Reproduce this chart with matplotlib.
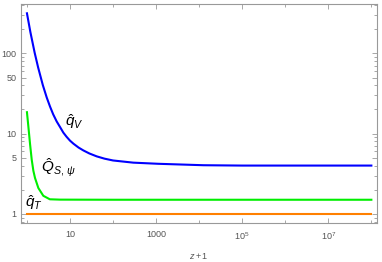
import numpy as np
import matplotlib
matplotlib.use('Agg')
import matplotlib.pyplot as plt
from matplotlib.ticker import FixedLocator, NullFormatter

plt.rcParams['font.family'] = ['Liberation Sans', 'DejaVu Sans']
plt.rcParams['mathtext.fontset'] = 'custom'
plt.rcParams['mathtext.rm'] = 'Liberation Sans'
plt.rcParams['mathtext.it'] = 'Liberation Sans:italic'

# curves (z+1, value)
zV = [1.0, 1.2, 1.51, 1.82, 2.34, 2.88, 3.43, 4.07, 4.9, 5.89, 7.0, 8.32, 10, 12, 15.8, 20.4,
      28.2, 41.7, 63.1, 100, 295, 1120, 1.26e4, 1e5, 1e6, 1e7, 1e8]
qV = [316, 185, 102, 66.7, 40.2, 28.2, 21.8, 17.4, 14.2, 12.05, 10.3, 9.14, 8.18, 7.5, 6.71, 6.18,
      5.66, 5.21, 4.88, 4.63, 4.35, 4.21, 4.04, 4.0, 4.0, 4.0, 4.0]

zS = [1.0, 1.075, 1.18, 1.29, 1.41, 1.54, 1.84, 2.4, 3.4, 5.9, 100, 1e4, 1e6, 1e8]
QS = [18.5, 12.5, 7.43, 4.74, 3.44, 2.80, 2.10, 1.68, 1.52, 1.505, 1.5, 1.5, 1.5, 1.5]

zT = [1.0, 1e8]
qT = [1.0, 1.0]

xmajor = [10, 1000, 1e5, 1e7]
xmajor_lab = ['10', '1000', '$10^5$', '$10^7$']
xminor = [1, 100, 1e4, 1e6, 1e8]
ymajor = [1, 5, 10, 50, 100]
ymajor_lab = ['1', '5', '10', '50', '100']
yminor = [0.8, 0.9, 2, 3, 4, 6, 7, 8, 9, 20, 30, 40, 60, 70, 80, 90, 200, 300, 400]

fig = plt.figure(figsize=(3.82, 2.62), dpi=100)
ax = fig.add_axes([0.0542, 0.1489, 0.9335, 0.8359])

ax.plot(zV, qV, color='#0000ff', lw=1.5)
ax.plot(zS, QS, color='#00ee00', lw=1.5)
ax.plot(zT, qT, color='#ff8000', lw=1.5)

ax.set_xscale('log')
ax.set_yscale('log')
ax.set_xlim(0.716, 1.374e8)
ax.set_ylim(0.77, 413)

gray = '#999999'
for s in ax.spines.values():
    s.set_color(gray)
    s.set_linewidth(0.8)

ax.xaxis.set_major_locator(FixedLocator(xmajor))
ax.set_xticklabels(xmajor_lab)
ax.xaxis.set_minor_locator(FixedLocator(xminor))
ax.xaxis.set_minor_formatter(NullFormatter())
ax.yaxis.set_major_locator(FixedLocator(ymajor))
ax.set_yticklabels(ymajor_lab)
ax.yaxis.set_minor_locator(FixedLocator(yminor))
ax.yaxis.set_minor_formatter(NullFormatter())

ax.tick_params(which='both', direction='in', top=True, right=True, color=gray,
               labelcolor='#555555', labelsize=6.5, width=0.6)
ax.tick_params(which='major', length=3.5, pad=3)
ax.tick_params(which='minor', length=2)
ax.tick_params(axis='x', which='major', pad=5)

ax.set_xlabel('$z+1$', fontsize=6.5, color='#555555', labelpad=7)

ax.text(7.65, 14.1, r'$\hat{q}_V$', fontsize=11, va='center', ha='left')
ax.text(2.12, 3.79, r'$\hat{Q}_{S,\,\psi}$', fontsize=11, va='center', ha='left')
ax.text(0.90, 1.38, r'$\hat{q}_T$', fontsize=11, va='center', ha='left')

fig.savefig('out.png', dpi=100)
